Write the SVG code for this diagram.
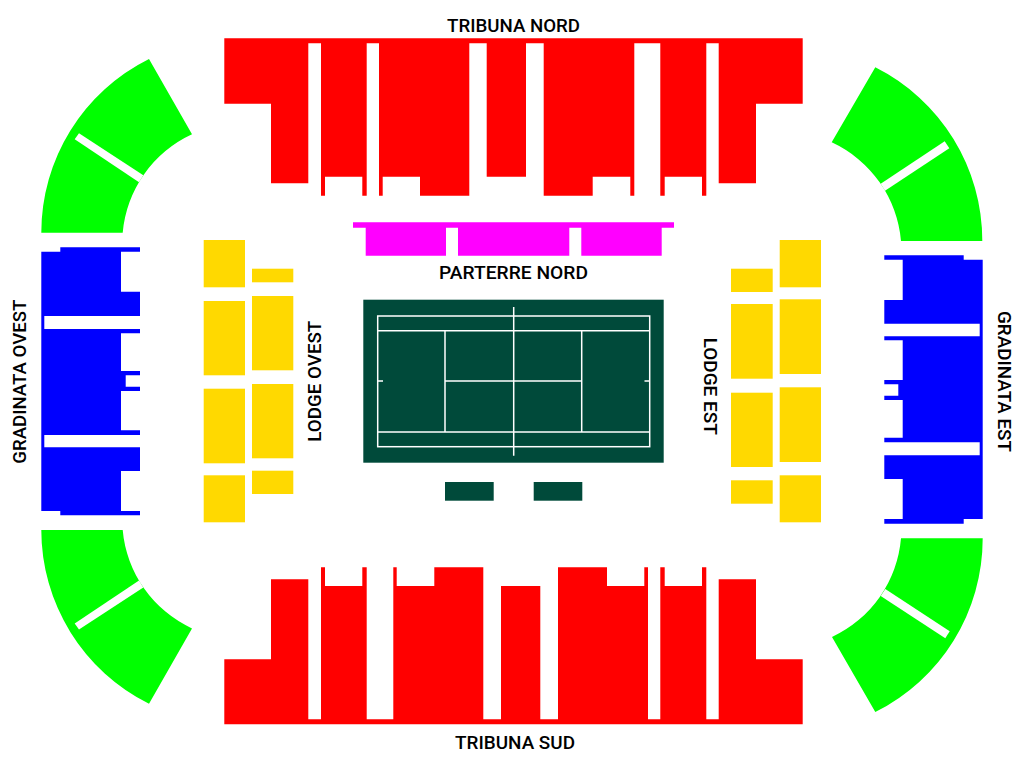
<svg xmlns="http://www.w3.org/2000/svg" width="1024" height="768" viewBox="0 0 1024 768">
<style>
.red{fill:#ff0000}.blue{fill:#0000ff}.green{fill:#00ff00}.yellow{fill:#ffd900}.magenta{fill:#ff00ff}.court{fill:#004a3a}.slit{fill:#ffffff}
.line{stroke:#ffffff;stroke-width:1.5;fill:none}
text{font-family:"Roboto","Liberation Sans",sans-serif;font-size:19px;font-weight:500;fill:#000000}
</style>
<rect width="1024" height="768" fill="#ffffff"/>
<g id="tribuna-nord">
<path class="red" d="M224.3 38.3H802.7V103.7H756V183.3H718.7V43.3H706.3V195.7H702V176.7H664.7V195.7H660.3V43.3H634.3V195.7H630.3V176.7H592.7V195.7H543.7V43.3H526V176.7H486.7V43.3H469.3V195.7H420V176.7H382.7V195.7H379V43.3H366.7V195.7H362.3V176.7H325V195.7H321V43.3H308.3V183.3H271V103.7H224.3Z"/>
<text x="447" y="31.7" textLength="133" lengthAdjust="spacingAndGlyphs">TRIBUNA NORD</text>
</g>
<g id="tribuna-sud">
<path class="red" d="M224.3 724.3H802.7V659.3H756V579.3H718.7V719.3H706.3V567.3H702V586H664.7V567.3H660.3V719.3H648V567.3H644.3V586H607V567.3H558V719.3H540.3V586H501V719.3H483.3V567.3H434.3V586H396.7V567.3H393.3V719.3H366.7V567.3H362.3V586H325V567.3H321V719.3H308.3V579.3H271V659.3H224.3Z"/>
<text x="455" y="749" textLength="120" lengthAdjust="spacingAndGlyphs">TRIBUNA SUD</text>
</g>
<g id="gradinata-ovest">
<path class="blue" d="M41.3 251.7H60.3V247.3H140V251.7H121V291.7H140V316H44.3V329H140V333.3H121V371H140V375.3H125.7V386.7H140V391H121V430.3H140V435H44.3V447.3H140V471H121V511H140V515.3H60.3V511H41.3Z"/>
<text transform="translate(25.7 463.7) rotate(-90)" textLength="164" lengthAdjust="spacingAndGlyphs">GRADINATA OVEST</text>
</g>
<g id="gradinata-est">
<path class="blue" d="M884.3 255.3H963.7V259.7H982.7V519H963.7V523.7H884.3V519H902.7V479H884.3V455.3H979.7V442.3H884.3V437.7H902.7V400H884.3V395.7H898.3V384.3H884.3V380H902.7V340.3H884.3V336.3H979.7V323.7H884.3V300H902.7V259.7H884.3Z"/>
<text transform="translate(998.3 311) rotate(90)" textLength="141" lengthAdjust="spacingAndGlyphs">GRADINATA EST</text>
</g>
<g id="curva-nord-ovest">
<path class="green" d="M41.3 232.7A194 194 0 0 1 149 59L192 134.3A120 120 0 0 0 122.7 232.7Z"/>
<polygon class="slit" points="79,133.3 143.3,175.3 139,182.3 74.7,139.3"/>
</g>
<g id="curva-sud-ovest">
<path class="green" d="M41.3 530A194 194 0 0 0 149 703.7L192 628.4A120 120 0 0 1 122.7 530Z"/>
<polygon class="slit" points="79,629.4 143.3,587.4 139,580.4 74.7,623.4"/>
</g>
<g id="curva-nord-est">
<path class="green" d="M982.3 241A194 194 0 0 0 875.3 67.3L831.7 142.3A120 120 0 0 1 901 241Z"/>
<polygon class="slit" points="944.7,141.3 949.3,148.3 885,190.7 880.7,183.7"/>
</g>
<g id="curva-sud-est">
<path class="green" d="M982.7 538.3A194 194 0 0 1 875.3 712L832 637A120 120 0 0 0 901 538.3Z"/>
<polygon class="slit" points="885.3,589 880.7,596 945.3,638.3 949.7,631.3"/>
</g>
<g id="parterre-nord">
<path class="magenta" d="M353 222.3H674V227.7H661.7V255.7H581.3V227.7H569.3V255.7H458V227.7H446V255.7H365.7V227.7H353Z"/>
<text x="439" y="279.3" textLength="149" lengthAdjust="spacingAndGlyphs">PARTERRE NORD</text>
</g>
<g id="lodge-ovest">
<rect class="yellow" x="203.7" y="240" width="41.3" height="47.3"/>
<rect class="yellow" x="203.7" y="301" width="41.3" height="74.3"/>
<rect class="yellow" x="203.7" y="388.7" width="41.3" height="74.6"/>
<rect class="yellow" x="203.7" y="475.3" width="41.3" height="47"/>
<rect class="yellow" x="252" y="268.7" width="41.3" height="13.6"/>
<rect class="yellow" x="252" y="296" width="41.3" height="74.3"/>
<rect class="yellow" x="252" y="384" width="41.3" height="74.3"/>
<rect class="yellow" x="252" y="470.7" width="41.3" height="23.3"/>
<text transform="translate(320.7 441.7) rotate(-90)" textLength="121" lengthAdjust="spacingAndGlyphs">LODGE OVEST</text>
</g>
<g id="lodge-est">
<rect class="yellow" x="731" y="268.7" width="41.7" height="23.3"/>
<rect class="yellow" x="731" y="304" width="41.7" height="74.7"/>
<rect class="yellow" x="731" y="392.7" width="41.7" height="74.3"/>
<rect class="yellow" x="731" y="480.3" width="41.7" height="23.4"/>
<rect class="yellow" x="779.7" y="240" width="41.3" height="47.3"/>
<rect class="yellow" x="779.7" y="299.3" width="41.3" height="74.7"/>
<rect class="yellow" x="779.7" y="387.3" width="41.3" height="74.7"/>
<rect class="yellow" x="779.7" y="475.3" width="41.3" height="47"/>
<text transform="translate(704 337.7) rotate(90)" textLength="97" lengthAdjust="spacingAndGlyphs">LODGE EST</text>
</g>
<g id="campo">
<rect class="court" x="363.3" y="299.7" width="300.4" height="163"/>
<rect class="line" x="377.7" y="316" width="272" height="130.7"/>
<path class="line" d="M377.7 330.7H649.7M377.7 432H649.7M445 330.7V432M581.7 330.7V432M445 381H581.7M513.7 307V455.7M377.7 381H383M644.5 381H649.7"/>
</g>
<g id="panchina-sinistra"><rect class="court" x="445" y="482" width="48.7" height="18.7"/></g>
<g id="panchina-destra"><rect class="court" x="533.7" y="482" width="48.6" height="18.7"/></g>
</svg>
